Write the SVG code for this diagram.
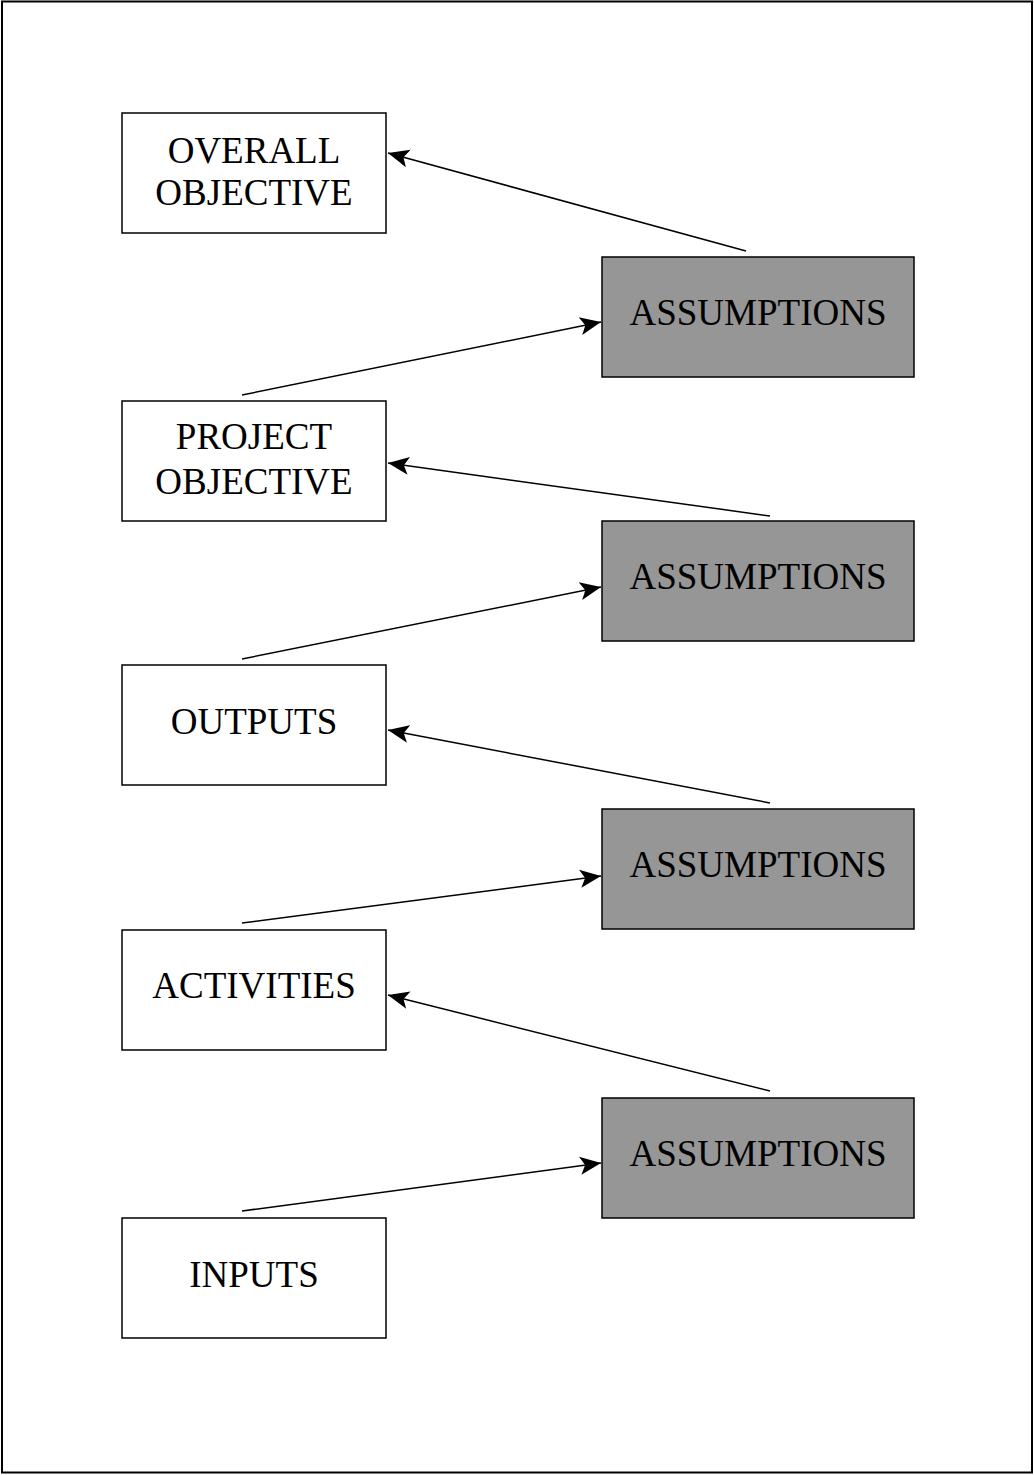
<svg xmlns="http://www.w3.org/2000/svg" width="1034" height="1475" viewBox="0 0 1034 1475">
<style>
.frame{fill:#fff;stroke:#000;stroke-width:2}
.box{fill:#fff;stroke:#000;stroke-width:1.5}
.asm{fill:#969696;stroke:#000;stroke-width:1.5}
.t{font-family:"Liberation Serif","Times New Roman",serif;font-size:37px;fill:#000;text-anchor:middle}
.c{stroke:#000;stroke-width:1.5;fill:none;marker-end:url(#ah)}
</style>
<defs>
<marker id="ah" markerUnits="userSpaceOnUse" markerWidth="24" markerHeight="20" refX="21" refY="9" orient="auto" viewBox="0 0 24 18">
<path d="M0,0 L21,9 L0,18 L5,9 Z" fill="#000"/>
</marker>
</defs>
<rect class="frame" x="2" y="1.5" width="1030" height="1471"/>
<g id="overall"><rect class="box" x="122" y="113" width="264" height="120"/><text class="t" x="254" y="163">OVERALL</text><text class="t" x="254" y="205">OBJECTIVE</text></g>
<g id="project"><rect class="box" x="122" y="401" width="264" height="120"/><text class="t" x="254" y="449">PROJECT</text><text class="t" x="254" y="494">OBJECTIVE</text></g>
<g id="outputs"><rect class="box" x="122" y="665" width="264" height="120"/><text class="t" x="254" y="734">OUTPUTS</text></g>
<g id="activities"><rect class="box" x="122" y="930" width="264" height="120"/><text class="t" x="254" y="998">ACTIVITIES</text></g>
<g id="inputs"><rect class="box" x="122" y="1218" width="264" height="120"/><text class="t" x="254" y="1287">INPUTS</text></g>
<g id="asm1"><rect class="asm" x="602" y="257" width="312" height="120"/><text class="t" x="758" y="325">ASSUMPTIONS</text></g>
<g id="asm2"><rect class="asm" x="602" y="521" width="312" height="120"/><text class="t" x="758" y="589">ASSUMPTIONS</text></g>
<g id="asm3"><rect class="asm" x="602" y="809" width="312" height="120"/><text class="t" x="758" y="877">ASSUMPTIONS</text></g>
<g id="asm4"><rect class="asm" x="602" y="1098" width="312" height="120"/><text class="t" x="758" y="1166">ASSUMPTIONS</text></g>
<g id="connectors">
<line class="c" x1="746" y1="251" x2="388" y2="153"/>
<line class="c" x1="242" y1="395" x2="601" y2="322"/>
<line class="c" x1="770" y1="516" x2="388" y2="463"/>
<line class="c" x1="242" y1="659" x2="601" y2="587"/>
<line class="c" x1="770" y1="803" x2="388" y2="730"/>
<line class="c" x1="242" y1="923" x2="601" y2="876"/>
<line class="c" x1="770" y1="1091" x2="388" y2="995"/>
<line class="c" x1="242" y1="1211" x2="601" y2="1163"/>
</g>
</svg>
